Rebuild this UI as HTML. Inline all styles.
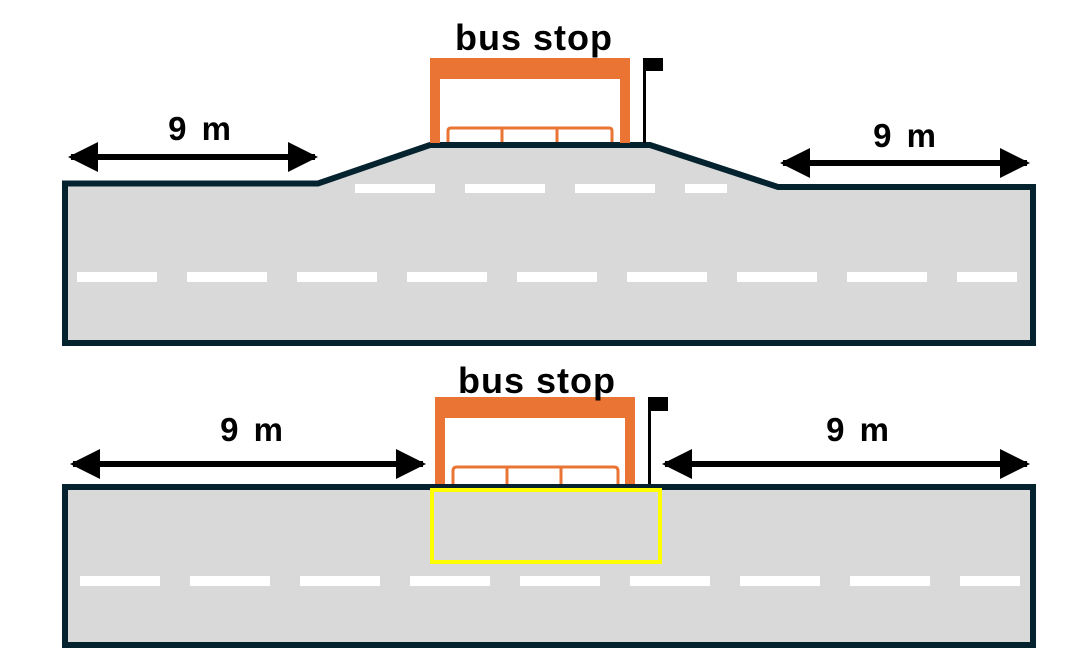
<!DOCTYPE html>
<html><head><meta charset="utf-8"><style>html,body{margin:0;padding:0;background:#fff}svg{display:block}</style></head>
<body>
<svg width="1074" height="659" viewBox="0 0 1074 659" xmlns="http://www.w3.org/2000/svg" font-family="'Liberation Sans',sans-serif">
<defs>
<marker id="ah" markerWidth="5" markerHeight="5" refX="4.5" refY="2.5" orient="auto-start-reverse" markerUnits="strokeWidth"><path d="M0,0 L5,2.5 L0,5 Z" fill="#000"/></marker>
</defs>
<!-- TOP -->
<path d="M65,183.5 L318,183.5 L430,145 L650,145 L778,187 L1033,187 L1033,343 L65,343 Z" fill="#d9d9d9" stroke="#05222f" stroke-width="6" stroke-linejoin="miter"/>
<g fill="#fff">
<rect x="355" y="184" width="80" height="9"/><rect x="465" y="184" width="80" height="9"/><rect x="575" y="184" width="80" height="9"/><rect x="685" y="184" width="42" height="9"/>
<rect x="77" y="272" width="80" height="10"/><rect x="187" y="272" width="80" height="10"/><rect x="297" y="272" width="80" height="10"/><rect x="407" y="272" width="80" height="10"/><rect x="517" y="272" width="80" height="10"/><rect x="627" y="272" width="80" height="10"/><rect x="737" y="272" width="80" height="10"/><rect x="847" y="272" width="80" height="10"/><rect x="957" y="272" width="60" height="10"/>
</g>
<g fill="#e97434">
<rect x="430" y="58" width="200" height="21"/><rect x="430" y="58" width="10" height="85"/><rect x="620" y="58" width="10" height="85"/>
</g>
<path d="M448,142 V131 Q448,128 451,128 H609 Q612,128 612,131 V142 M502,128 V142 M557,128 V142" fill="none" stroke="#e97434" stroke-width="3"/>
<rect x="643" y="58" width="3" height="85" fill="#000"/><rect x="643" y="58" width="20" height="13" fill="#000"/>
<text x="534" y="50" font-size="36" font-weight="bold" text-anchor="middle" letter-spacing="1">bus stop</text>
<line x1="71" y1="157" x2="315" y2="157" stroke="#000" stroke-width="6" marker-start="url(#ah)" marker-end="url(#ah)"/>
<line x1="783" y1="163" x2="1027" y2="163" stroke="#000" stroke-width="6" marker-start="url(#ah)" marker-end="url(#ah)"/>
<text x="201" y="140" font-size="33" font-weight="bold" text-anchor="middle" letter-spacing="3">9 m</text>
<text x="906" y="147" font-size="33" font-weight="bold" text-anchor="middle" letter-spacing="3">9 m</text>
<!-- BOTTOM -->
<rect x="65" y="487" width="968" height="158" fill="#d9d9d9" stroke="#05222f" stroke-width="6"/>
<g fill="#fff">
<rect x="80" y="576" width="80" height="10"/><rect x="190" y="576" width="80" height="10"/><rect x="300" y="576" width="80" height="10"/><rect x="410" y="576" width="80" height="10"/><rect x="520" y="576" width="80" height="10"/><rect x="630" y="576" width="80" height="10"/><rect x="740" y="576" width="80" height="10"/><rect x="850" y="576" width="80" height="10"/><rect x="960" y="576" width="60" height="10"/>
</g>
<rect x="432" y="490" width="228" height="72" fill="none" stroke="#ffff00" stroke-width="4"/>
<g fill="#e97434">
<rect x="435" y="397" width="200" height="21"/><rect x="435" y="397" width="10" height="87"/><rect x="625" y="397" width="10" height="87"/>
</g>
<path d="M453,484 V471 Q453,467 457,467 H614 Q618,467 618,471 V484 M507,467 V484 M561,467 V484" fill="none" stroke="#e97434" stroke-width="3"/>
<rect x="648" y="397" width="3" height="87" fill="#000"/><rect x="648" y="397" width="20" height="14" fill="#000"/>
<text x="537" y="393" font-size="36" font-weight="bold" text-anchor="middle" letter-spacing="1">bus stop</text>
<line x1="73" y1="464" x2="423" y2="464" stroke="#000" stroke-width="6" marker-start="url(#ah)" marker-end="url(#ah)"/>
<line x1="665" y1="464" x2="1027" y2="464" stroke="#000" stroke-width="6" marker-start="url(#ah)" marker-end="url(#ah)"/>
<text x="253" y="441" font-size="33" font-weight="bold" text-anchor="middle" letter-spacing="3">9 m</text>
<text x="859" y="441" font-size="33" font-weight="bold" text-anchor="middle" letter-spacing="3">9 m</text>
</svg>
</body></html>
